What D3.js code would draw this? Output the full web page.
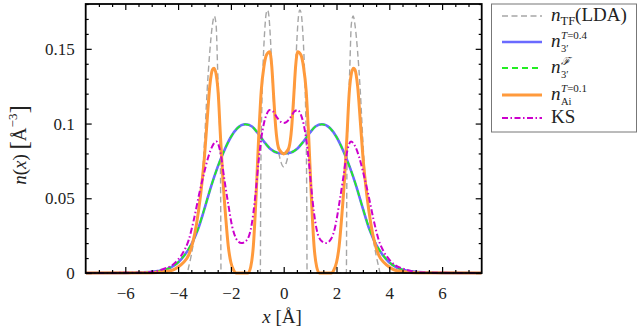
<!DOCTYPE html>
<html>
<head>
<meta charset="utf-8">
<script src="https://cdn.jsdelivr.net/npm/d3@7"></script>
<style>
  body { margin: 0; background: #fff; }
  svg, svg text { font-family: "Liberation Serif", "DejaVu Serif", serif; }
</style>
</head>
<body>
<svg id="chart" width="641" height="332"></svg>
<script>
// values (x in Å, n in Å^-3)
const xTF = [-7.5, -3.66, -3.6, -3.5, -3.4, -3.3, -3.2, -3.1, -3.0, -2.9, -2.8, -2.7, -2.63, -2.56, -2.5, -2.44, -2.4, -2.385, -2.375,
  -0.885, -0.875, -0.865, -0.83, -0.78, -0.72, -0.66, -0.61, -0.55, -0.5, -0.45, -0.4, -0.3, -0.2, -0.1, 0,
  0.1, 0.2, 0.3, 0.4, 0.45, 0.5, 0.55, 0.61, 0.66, 0.72, 0.78, 0.83, 0.865, 0.875, 0.885,
  2.375, 2.385, 2.4, 2.44, 2.5, 2.56, 2.63, 2.7, 2.8, 2.9, 3.0, 3.1, 3.2, 3.3, 3.4, 3.5, 3.6, 3.66, 7.5];
const nTF = [0, 0, 0.004, 0.012, 0.022, 0.033, 0.046, 0.06, 0.088, 0.122, 0.148, 0.166, 0.172, 0.166, 0.135, 0.105, 0.08, 0.04, 0,
  0, 0.04, 0.07, 0.11, 0.14, 0.162, 0.174, 0.176, 0.17, 0.156, 0.138, 0.12, 0.097, 0.082, 0.074, 0.071,
  0.074, 0.082, 0.097, 0.12, 0.138, 0.156, 0.17, 0.176, 0.174, 0.162, 0.14, 0.11, 0.07, 0.04, 0,
  0, 0.04, 0.08, 0.105, 0.135, 0.166, 0.172, 0.166, 0.148, 0.122, 0.088, 0.06, 0.046, 0.033, 0.022, 0.012, 0.004, 0, 0];

const x3 = [-7.5, -6, -5.5, -5, -4.6, -4.3, -4.0, -3.75, -3.5, -3.25, -3.0, -2.75, -2.5, -2.25, -2.0, -1.75, -1.45, -1.2, -1.0, -0.75, -0.5, -0.25, 0,
  0.25, 0.5, 0.75, 1.0, 1.2, 1.45, 1.75, 2.0, 2.25, 2.5, 2.75, 3.0, 3.25, 3.5, 3.75, 4.0, 4.3, 4.6, 5, 5.5, 6, 7.5];
const n3T04 = [0, 0.0001, 0.0003, 0.0008, 0.0018, 0.0035, 0.007, 0.012, 0.019, 0.029, 0.043, 0.058, 0.071, 0.082, 0.091, 0.097, 0.0995, 0.098, 0.094, 0.088, 0.083, 0.0805, 0.080,
  0.0805, 0.083, 0.088, 0.094, 0.098, 0.0995, 0.097, 0.091, 0.082, 0.071, 0.058, 0.043, 0.029, 0.019, 0.012, 0.007, 0.0035, 0.0018, 0.0008, 0.0003, 0.0001, 0];
const n3F = [0, 0.0001, 0.0003, 0.0008, 0.0018, 0.0036, 0.0072, 0.0122, 0.0193, 0.0293, 0.0432, 0.058, 0.071, 0.082, 0.091, 0.097, 0.0995, 0.098, 0.094, 0.088, 0.083, 0.0805, 0.080,
  0.0805, 0.083, 0.088, 0.094, 0.098, 0.0995, 0.097, 0.091, 0.082, 0.071, 0.058, 0.0432, 0.0293, 0.0193, 0.0122, 0.0072, 0.0036, 0.0018, 0.0008, 0.0003, 0.0001, 0];

const xAi = [-7.5, -5, -4.5, -4.2, -4.0, -3.8, -3.6, -3.45, -3.3, -3.15, -3.0, -2.9, -2.8, -2.7, -2.64, -2.55, -2.48, -2.4, -2.3, -2.2, -2.1, -2.0, -1.9, -1.8, -1.35, -1.25, -1.15, -1.05, -0.95, -0.85, -0.75, -0.65, -0.53, -0.45, -0.38, -0.3, -0.2, -0.1, 0,
  0.1, 0.2, 0.3, 0.38, 0.45, 0.53, 0.65, 0.75, 0.85, 0.95, 1.05, 1.15, 1.25, 1.35, 1.8, 1.9, 2.0, 2.1, 2.2, 2.3, 2.4, 2.48, 2.55, 2.64, 2.7, 2.8, 2.9, 3.0, 3.15, 3.3, 3.45, 3.6, 3.8, 4.0, 4.2, 4.5, 5, 7.5];
const nAi = [0, 0.0002, 0.001, 0.002, 0.004, 0.007, 0.012, 0.02, 0.033, 0.052, 0.078, 0.102, 0.125, 0.136, 0.137, 0.132, 0.12, 0.093, 0.062, 0.038, 0.018, 0.007, 0.002, 0, 0, 0.004, 0.018, 0.05, 0.09, 0.122, 0.138, 0.146, 0.148, 0.138, 0.118, 0.097, 0.084, 0.081, 0.0797,
  0.081, 0.084, 0.097, 0.118, 0.138, 0.148, 0.146, 0.138, 0.122, 0.09, 0.05, 0.018, 0.004, 0, 0, 0.002, 0.007, 0.018, 0.038, 0.062, 0.093, 0.12, 0.132, 0.137, 0.136, 0.125, 0.102, 0.078, 0.052, 0.033, 0.02, 0.012, 0.007, 0.004, 0.002, 0.001, 0.0002, 0];

const xKS = [-7.5, -5.5, -5, -4.5, -4.2, -4.0, -3.8, -3.6, -3.4, -3.2, -3.0, -2.85, -2.7, -2.55, -2.4, -2.25, -2.1, -1.95, -1.8, -1.6, -1.4, -1.25, -1.15, -1.05, -0.95, -0.85, -0.75, -0.65, -0.53, -0.4, -0.25, -0.1, 0,
  0.1, 0.25, 0.4, 0.53, 0.65, 0.75, 0.85, 0.95, 1.05, 1.15, 1.25, 1.4, 1.6, 1.8, 1.95, 2.1, 2.25, 2.4, 2.55, 2.7, 2.85, 3.0, 3.2, 3.4, 3.6, 3.8, 4.0, 4.2, 4.5, 5, 5.5, 7.5];
const nKS = [0, 0.0002, 0.0008, 0.003, 0.0055, 0.009, 0.014, 0.022, 0.036, 0.053, 0.068, 0.078, 0.085, 0.088, 0.081, 0.063, 0.046, 0.031, 0.023, 0.020, 0.022, 0.029, 0.040, 0.056, 0.075, 0.090, 0.100, 0.106, 0.109, 0.108, 0.104, 0.101, 0.1004,
  0.101, 0.104, 0.108, 0.109, 0.106, 0.100, 0.090, 0.075, 0.056, 0.040, 0.029, 0.022, 0.020, 0.023, 0.031, 0.046, 0.063, 0.081, 0.088, 0.085, 0.078, 0.068, 0.053, 0.036, 0.022, 0.014, 0.009, 0.0055, 0.003, 0.0008, 0.0002, 0];

const xMajor = [-6, -4, -2, 0, 2, 4, 6];
const yMajor = [0, 0.05, 0.1, 0.15];

const svg = d3.select("#chart");
const pl = 85.7, pr = 481.7, pt = 4, pb = 273;
const serif = "'Liberation Serif', 'DejaVu Serif', serif";

const x = d3.scaleLinear().domain([-7.5, 7.5]).range([pl, pr]);
const y = d3.scaleLinear().domain([0, 0.18]).range([pb, pt]);

svg.append("defs").append("clipPath").attr("id", "clip")
  .append("rect").attr("x", pl).attr("y", 0).attr("width", pr - pl).attr("height", 300);

const line = d3.line().x(d => x(d[0])).y(d => y(d[1])).curve(d3.curveMonotoneX);
const pairs = (xs, ys) => xs.map((v, i) => [v, ys[i]]);

const series = [
  { xs: xTF, ys: nTF, color: "#a6a6a6", width: 1.4, dash: "6,3.5" },
  { xs: x3, ys: n3T04, color: "#6a6aff", width: 2.6, dash: null },
  { xs: x3, ys: n3F, color: "#22ee22", width: 1.8, dash: "6,4" },
  { xs: xAi, ys: nAi, color: "#ff9a3c", width: 3, dash: null },
  { xs: xKS, ys: nKS, color: "#cc00cc", width: 2, dash: "6,2.5,1.5,2.5" }
];

const curves = svg.append("g").attr("clip-path", "url(#clip)");
series.forEach(s => {
  curves.append("path")
    .datum(pairs(s.xs, s.ys))
    .attr("fill", "none")
    .attr("stroke", s.color)
    .attr("stroke-width", s.width)
    .attr("stroke-dasharray", s.dash)
    .attr("d", line);
});

// axes, ticks pointing inward on all four sides
const minorX = d3.range(-7, 7.01, 0.5).filter(v => !xMajor.includes(v));
const minorY = d3.range(0.01, 0.181, 0.01).filter(v => !yMajor.some(m => Math.abs(m - v) < 1e-6));

function addAxis(axis, tx, ty) {
  const g = svg.append("g").attr("transform", `translate(${tx},${ty})`).call(axis)
    .attr("font-family", null).attr("font-size", 17);
  g.select(".domain").remove();
  g.selectAll("line").attr("stroke", "#000").attr("stroke-width", 1.2);
  g.selectAll("text").attr("fill", "#222").style("font-family", serif);
  return g;
}

const fmtY = d => d === 0 ? "0" : String(d);

addAxis(d3.axisBottom(x).tickValues(xMajor).tickSize(-6).tickPadding(14), 0, pb);
addAxis(d3.axisBottom(x).tickValues(minorX).tickSize(-3).tickFormat(""), 0, pb);
addAxis(d3.axisTop(x).tickValues(xMajor).tickSize(-6).tickFormat(""), 0, pt);
addAxis(d3.axisTop(x).tickValues(minorX).tickSize(-3).tickFormat(""), 0, pt);

addAxis(d3.axisLeft(y).tickValues(yMajor).tickSize(-6).tickPadding(11).tickFormat(fmtY), pl, 0);
addAxis(d3.axisLeft(y).tickValues(minorY).tickSize(-3).tickFormat(""), pl, 0);
addAxis(d3.axisRight(y).tickValues(yMajor).tickSize(-6).tickFormat(""), pr, 0);
addAxis(d3.axisRight(y).tickValues(minorY).tickSize(-3).tickFormat(""), pr, 0);

svg.append("rect")
  .attr("x", pl).attr("y", pt)
  .attr("width", pr - pl).attr("height", pb - pt)
  .attr("fill", "none").attr("stroke", "#000").attr("stroke-width", 1.8);

// axis titles
const xt = svg.append("text").attr("x", 282).attr("y", 323).attr("text-anchor", "middle")
  .attr("font-size", 19).attr("fill", "#222");
xt.append("tspan").attr("font-style", "italic").text("x");
xt.append("tspan").text(" [Å]");

const yt = svg.append("text").attr("transform", "translate(26,145) rotate(-90)")
  .attr("text-anchor", "middle").attr("font-size", 19).attr("fill", "#222");
yt.append("tspan").attr("font-style", "italic").text("n");
yt.append("tspan").text("(");
yt.append("tspan").attr("font-style", "italic").text("x");
yt.append("tspan").text(") ");
yt.append("tspan").attr("font-size", 25).attr("dy", 1).text("[");
yt.append("tspan").attr("dy", -1).text("Å");
yt.append("tspan").attr("font-size", 13).attr("dy", -9).text("−3");
yt.append("tspan").attr("font-size", 25).attr("dy", 10).text("]");

// legend
const legend = svg.append("g");
legend.append("rect").attr("x", 491.5).attr("y", 4).attr("width", 145).attr("height", 128)
  .attr("fill", "#fff").attr("stroke", "#777").attr("stroke-width", 1);

const legendRows = [
  { y: 16, s: series[0], sub: "TF", supT: null, supCal: null, tail: "(LDA)" },
  { y: 42, s: series[1], sub: "3′", supT: "=0.4", supCal: null, tail: "" },
  { y: 68, s: series[2], sub: "3′", supT: null, supCal: "ℱ", tail: "" },
  { y: 95, s: series[3], sub: "Ai", supT: "=0.1", supCal: null, tail: "" },
  { y: 118, s: series[4], sub: null, supT: null, supCal: null, tail: "KS" }
];

legendRows.forEach(r => {
  legend.append("line")
    .attr("x1", 502).attr("x2", 542).attr("y1", r.y).attr("y2", r.y)
    .attr("stroke", r.s.color).attr("stroke-width", r.s.width)
    .attr("stroke-dasharray", r.s.dash);
  const t = legend.append("text").attr("x", 551).attr("y", r.y + 5)
    .attr("font-size", 19).attr("fill", "#222");
  if (!r.sub) { t.text(r.tail); return; }
  t.append("tspan").attr("font-style", "italic").text("n");
  if (r.supT || r.supCal) {
    const sup = legend.append("text").attr("x", 561).attr("y", r.y - 3)
      .attr("font-size", 11).attr("fill", "#222");
    if (r.supT) {
      sup.append("tspan").attr("font-style", "italic").text("T");
      sup.append("tspan").text(r.supT);
    } else {
      sup.append("tspan").attr("font-style", "italic").text(r.supCal);
    }
    legend.append("text").attr("x", 561).attr("y", r.y + 10)
      .attr("font-size", 10.5).attr("fill", "#222").text(r.sub);
  } else {
    t.append("tspan").attr("font-size", 12.5).attr("dy", 4).text(r.sub);
    t.append("tspan").attr("dy", -4).text(r.tail);
  }
});
</script>
</body>
</html>
